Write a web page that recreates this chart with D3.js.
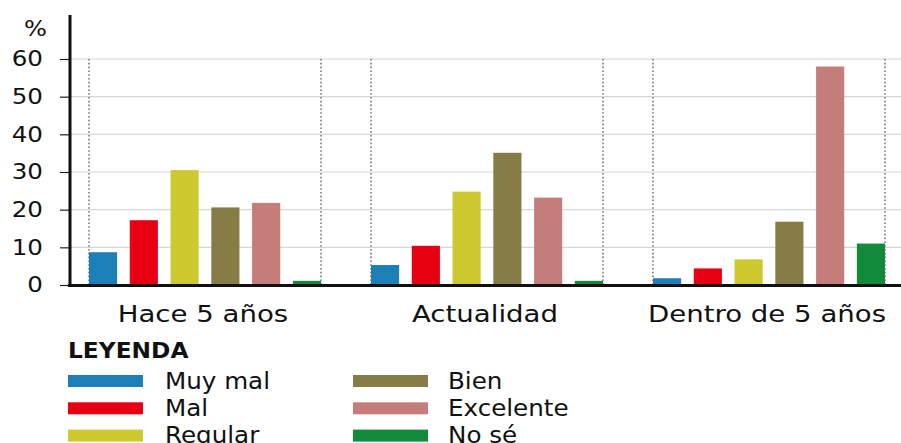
<!DOCTYPE html>
<html>
<head>
<meta charset="utf-8">
<script src="https://cdn.jsdelivr.net/npm/d3@7"></script>
<style>
  body { margin: 0; background: #fff; }
  svg text { font-family: "DejaVu Sans", sans-serif; fill: #111; }
</style>
</head>
<body>
<div id="chart"></div>
<script>
const periods = ['Hace 5 años', 'Actualidad', 'Dentro de 5 años'];
const series = ['Muy mal', 'Mal', 'Regular', 'Bien', 'Excelente', 'No sé'];
const colors = ['#1c7fb8', '#e60012', '#cdc92e', '#857d45', '#c47d7b', '#128a3c'];
const muyMal = [8.7, 5.3, 1.8];
const mal = [17.2, 10.4, 4.4];
const regular = [30.5, 24.8, 6.8];
const bien = [20.6, 35.1, 16.8];
const excelente = [21.8, 23.2, 58];
const noSe = [1.1, 1.1, 11];
const yTicks = [0, 10, 20, 30, 40, 50, 60];

const values = [muyMal, mal, regular, bien, excelente, noSe];
const width = 901, height = 443;

// the original artwork is a bit wider than tall, so text gets a horizontal stretch
const stretch = (sel, k) => sel.each(function () {
    const t = d3.select(this);
    t.attr('x', (+t.attr('x') || 0) / k).attr('transform', `scale(${k},1)`);
});

const svg = d3.select('#chart').append('svg')
    .attr('width', width)
    .attr('height', height);

const y = d3.scaleLinear().domain([0, 60]).range([285, 59]);
const x0 = d3.scaleBand().domain(periods).range([89, 885]).paddingInner(0.1773).paddingOuter(0);
const x1 = d3.scaleBand().domain(series).range([0, x0.bandwidth()]).paddingInner(0.31).paddingOuter(0);

// horizontal grid
svg.append('g')
    .selectAll('line')
    .data(yTicks.slice(1))
    .join('line')
    .attr('x1', 70).attr('x2', width)
    .attr('y1', d => y(d)).attr('y2', d => y(d))
    .attr('stroke', '#d6d6d6')
    .attr('stroke-width', 1.2);

// dotted group separators
const edges = [];
periods.forEach(p => { edges.push(x0(p)); edges.push(x0(p) + x0.bandwidth()); });
svg.append('g')
    .selectAll('line')
    .data(edges)
    .join('line')
    .attr('x1', d => d).attr('x2', d => d)
    .attr('y1', y(60)).attr('y2', y(0))
    .attr('stroke', '#7a7a7a')
    .attr('stroke-width', 1.6)
    .attr('stroke-dasharray', '1.6,2.2');

// bars
const groups = svg.append('g')
    .selectAll('g')
    .data(periods)
    .join('g')
    .attr('transform', d => `translate(${x0(d)},0)`);

groups.selectAll('rect')
    .data((p, i) => series.map((s, j) => ({ s, v: values[j][i], c: colors[j] })))
    .join('rect')
    .attr('x', d => x1(d.s))
    .attr('width', x1.bandwidth())
    .attr('y', d => y(d.v))
    .attr('height', d => y(0) - y(d.v))
    .attr('fill', d => d.c);

// y axis
const yAxis = svg.append('g')
    .attr('transform', 'translate(70,0)')
    .call(d3.axisLeft(y).tickValues(yTicks).tickSize(10).tickPadding(17));
yAxis.select('.domain').remove();
yAxis.selectAll('.tick line').attr('stroke', '#222').attr('stroke-width', 1.2);
yAxis.selectAll('.tick text')
    .attr('font-size', 21)
    .attr('font-family', '"DejaVu Sans", sans-serif')
    .attr('fill', '#111')
    .call(stretch, 1.17);

svg.append('line')
    .attr('x1', 70).attr('x2', 70)
    .attr('y1', 15).attr('y2', 287)
    .attr('stroke', '#111').attr('stroke-width', 3);

svg.append('line')
    .attr('x1', 68).attr('x2', width)
    .attr('y1', 285.5).attr('y2', 285.5)
    .attr('stroke', '#111').attr('stroke-width', 3);

svg.append('text')
    .attr('x', 47).attr('y', 36)
    .attr('text-anchor', 'end')
    .attr('font-size', 21)
    .text('%')
    .call(stretch, 1.15);

// x labels
svg.append('g')
    .selectAll('text')
    .data(periods)
    .join('text')
    .attr('x', d => x0(d) + x0.bandwidth() / 2 - 2)
    .attr('y', 322)
    .attr('text-anchor', 'middle')
    .attr('font-size', 23)
    .text(d => d)
    .call(stretch, 1.2);

// legend
svg.append('text')
    .attr('x', 68).attr('y', 358)
    .attr('font-size', 22)
    .attr('font-weight', 'bold')
    .attr('fill', '#000')
    .text('LEYENDA')
    .call(stretch, 1.06);

const legend = svg.append('g')
    .selectAll('g')
    .data(series)
    .join('g')
    .attr('transform', (d, i) => `translate(${68 + Math.floor(i / 3) * 285},${381 + (i % 3) * 27.3})`);

legend.append('rect')
    .attr('x', 0).attr('y', -6)
    .attr('width', 75).attr('height', 12)
    .attr('fill', (d, i) => colors[i]);

legend.append('text')
    .attr('x', (d, i) => i < 3 ? 97 : 95)
    .attr('y', 7.5)
    .attr('font-size', 23)
    .text(d => d)
    .call(stretch, 1.07);
</script>
</body>
</html>
